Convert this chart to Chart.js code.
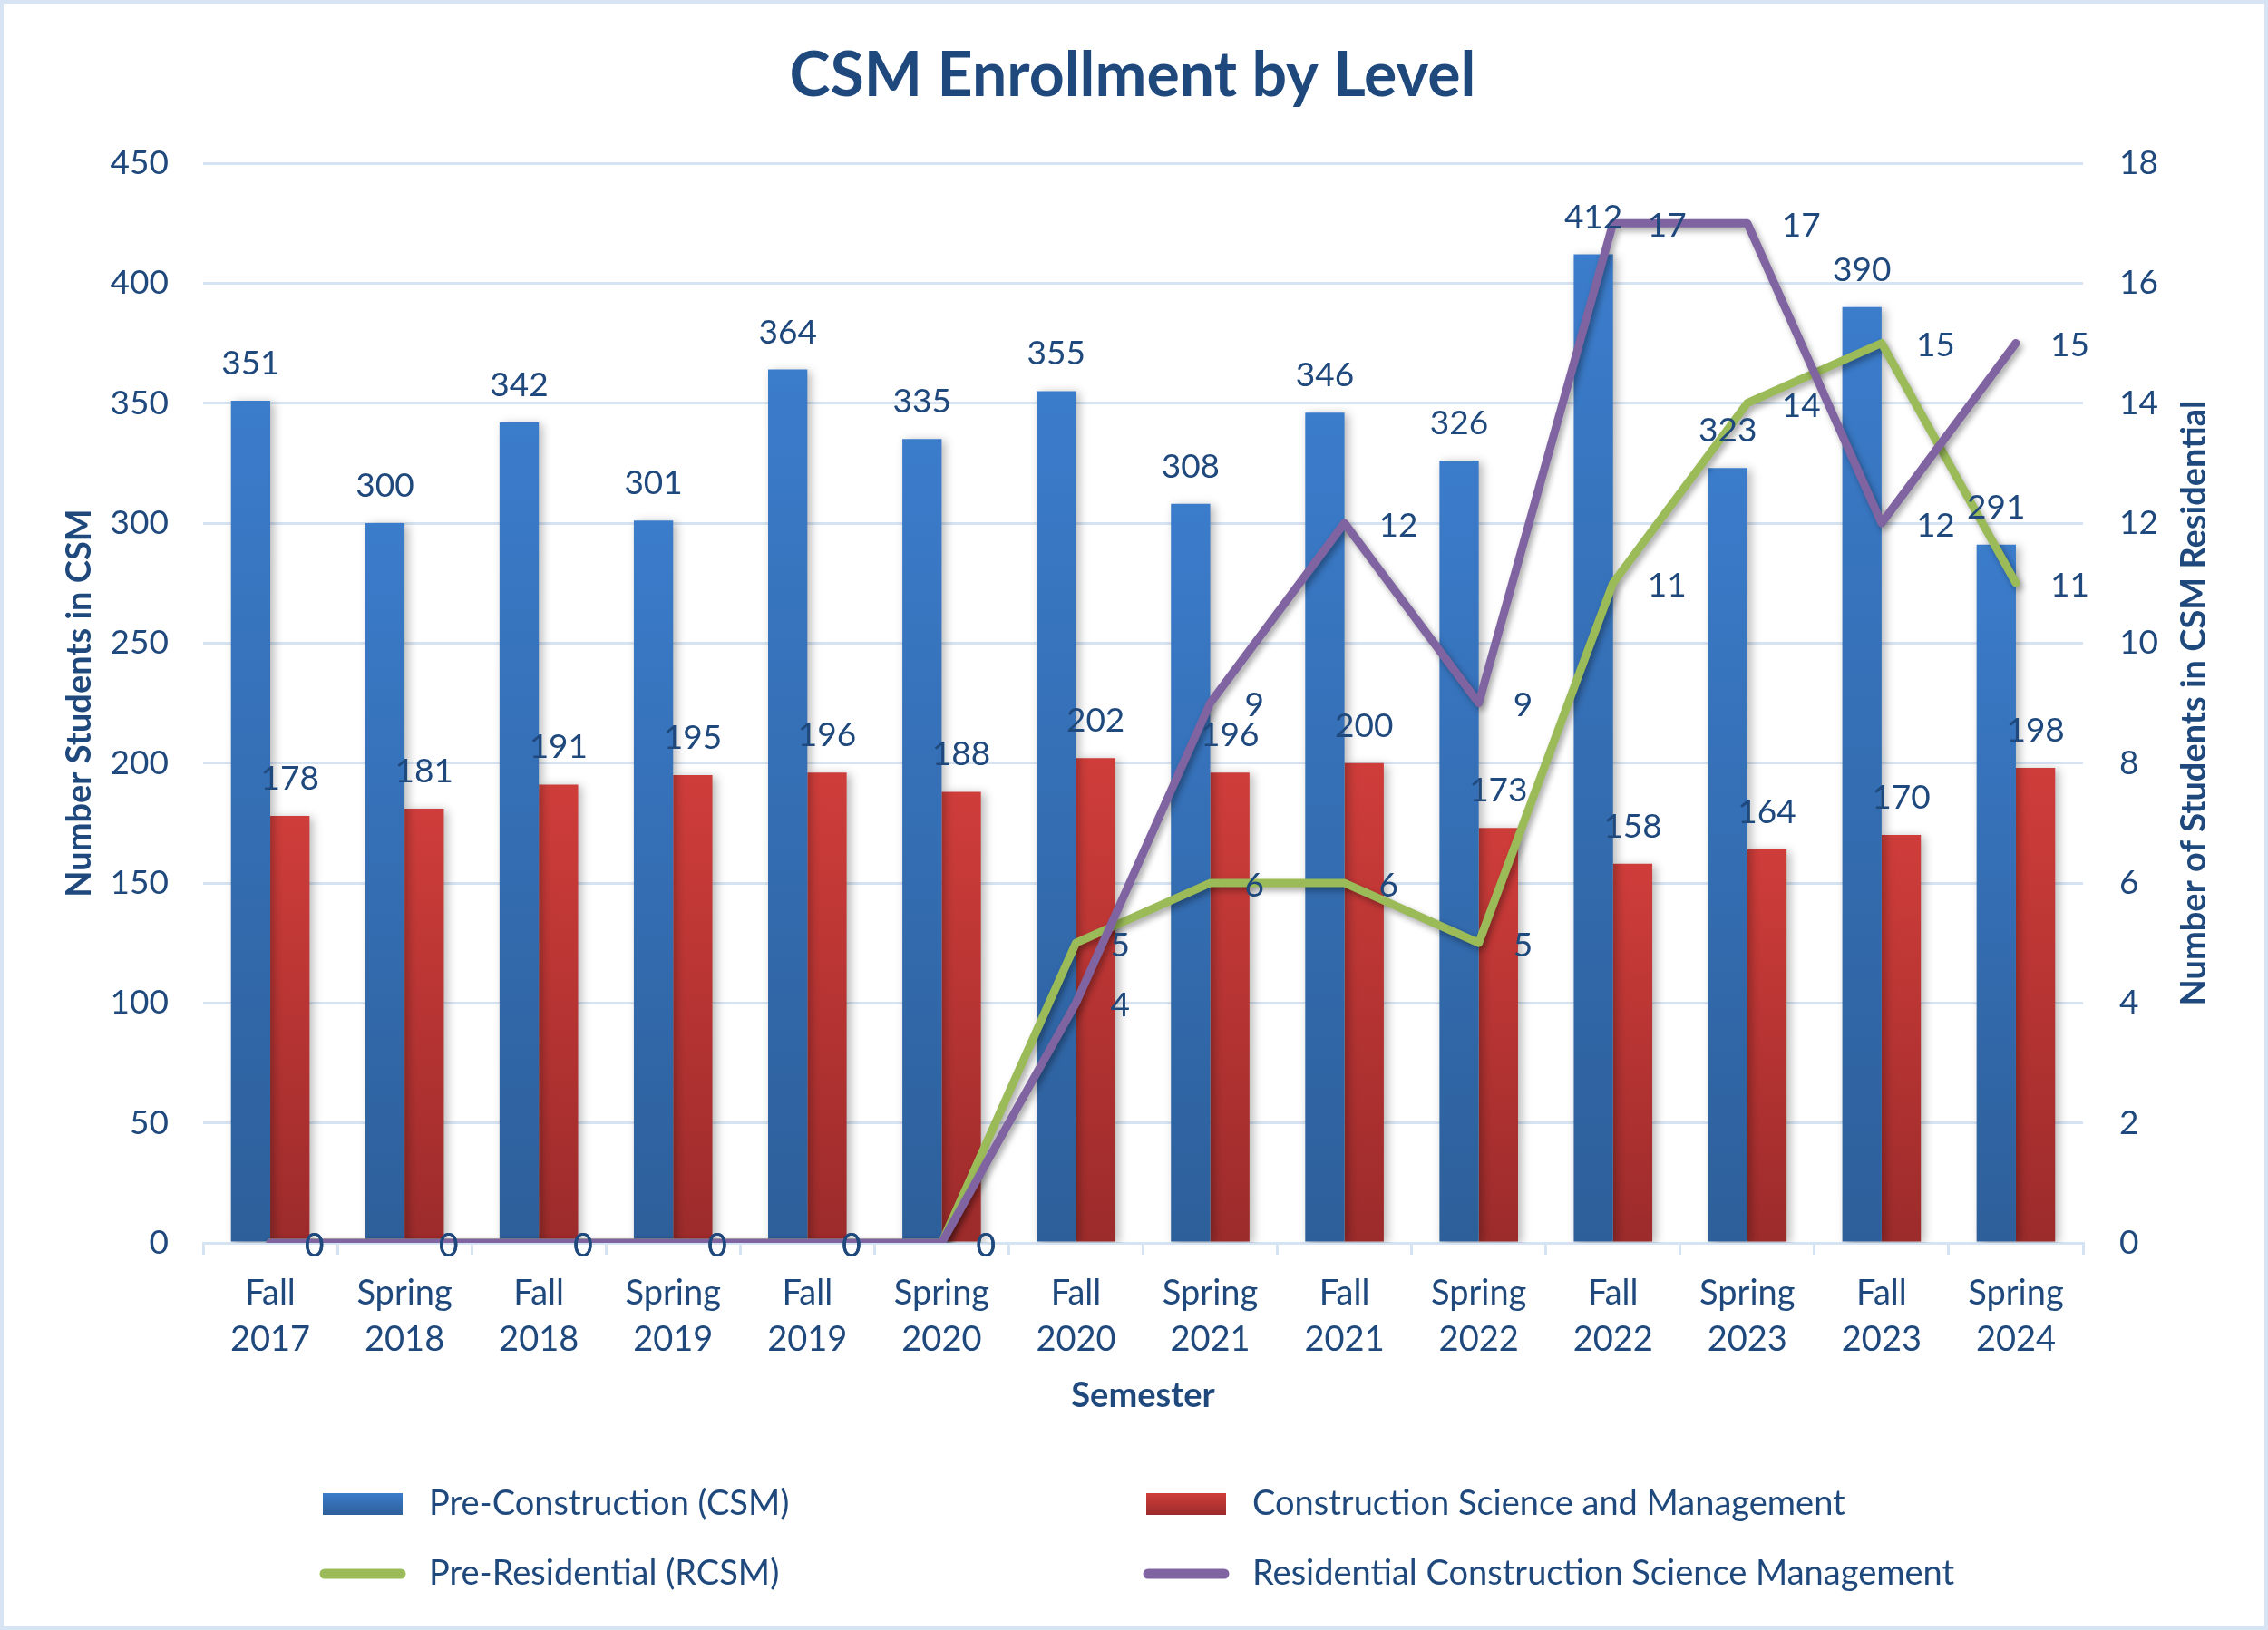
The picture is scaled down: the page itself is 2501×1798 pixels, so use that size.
<!DOCTYPE html>
<html><head><meta charset="utf-8">
<script src="https://cdn.jsdelivr.net/npm/chart.js@4.4.1/dist/chart.umd.min.js"></script>
<style>html,body{margin:0;padding:0;background:#fff;}canvas{display:block;}</style>
</head><body>
<canvas id="c" width="2501" height="1798"></canvas>
<script>
// ---- data ----
const semesters = [['Fall','2017'],['Spring','2018'],['Fall','2018'],['Spring','2019'],['Fall','2019'],['Spring','2020'],['Fall','2020'],['Spring','2021'],['Fall','2021'],['Spring','2022'],['Fall','2022'],['Spring','2023'],['Fall','2023'],['Spring','2024']];
const preConstruction = [351,300,342,301,364,335,355,308,346,326,412,323,390,291];
const constructionSci = [178,181,191,195,196,188,202,196,200,173,158,164,170,198];
const preResidential = [0,0,0,0,0,0,5,6,6,5,11,14,15,11];
const residentialCSM = [0,0,0,0,0,0,4,9,12,9,17,17,12,15];
const seriesNames = ['Pre-Construction (CSM)','Construction Science and Management','Pre-Residential (RCSM)','Residential Construction Science Management'];
const chartTitle = 'CSM Enrollment by Level';
const leftAxisTitle = 'Number Students in CSM';
const rightAxisTitle = 'Number of Students in CSM Residential';
const xAxisTitle = 'Semester';

const FONT = 'Lato';
const TXT = '#1F497D';
const GRID = '#D6E3F2';

function barGradient(ctx, top, bottom, c1, c2){
  const g = ctx.createLinearGradient(0, top, 0, bottom);
  g.addColorStop(0, c1); g.addColorStop(1, c2);
  return g;
}
function barFill(c1, c2){
  return function(context){
    const chart = context.chart;
    if (!chart.chartArea || context.type !== 'data') return c1;
    const ys = chart.scales.y;
    const top = ys.getPixelForValue(context.parsed.y);
    const bottom = ys.getPixelForValue(0);
    if (!isFinite(top) || bottom - top < 1) return c1;
    return barGradient(chart.ctx, top, bottom, c1, c2);
  };
}
const BLUE = ['#3B7CCB','#2D5F9A'];
const RED = ['#CF3D3A','#9C2B2B'];
const GREEN = '#9BBB59';
const PURPLE = '#8064A2';

const shadowPlugin = {
  id: 'shadow',
  beforeDatasetDraw(chart, args){
    const ctx = chart.ctx; ctx.save();
    const t = args.meta.type;
    if (t === 'bar'){ ctx.shadowColor='rgba(0,0,0,0.28)'; ctx.shadowBlur=10; ctx.shadowOffsetX=4; ctx.shadowOffsetY=2; }
    else { ctx.shadowColor='rgba(0,0,0,0.35)'; ctx.shadowBlur=7; ctx.shadowOffsetX=3; ctx.shadowOffsetY=4; }
  },
  afterDatasetDraw(chart){ chart.ctx.restore(); }
};

const labelPlugin = {
  id: 'labels',
  afterDatasetsDraw(chart){
    const ctx = chart.ctx;
    ctx.save();
    ctx.font = '37px ' + FONT;
    ctx.fillStyle = TXT;
    ctx.textBaseline = 'middle';
    chart.data.datasets.forEach((ds, i) => {
      const meta = chart.getDatasetMeta(i);
      meta.data.forEach((el, j) => {
        const v = ds.data[j];
        if (meta.type === 'bar'){
          ctx.textAlign = 'center';
          ctx.fillText(String(v), el.x, el.y - 41);
        } else {
          ctx.textAlign = 'left';
          ctx.fillText(String(v), el.x + 38, el.y + 3);
        }
      });
    });
    ctx.restore();
  },
  afterDraw(chart){
    const ctx = chart.ctx;
    const a = chart.chartArea;
    ctx.save();
    // border
    ctx.strokeStyle = '#D6E4F3'; ctx.lineWidth = 4;
    ctx.strokeRect(2, 2, chart.width - 4, chart.height - 4);
    ctx.fillStyle = TXT;
    ctx.textAlign = 'center'; ctx.textBaseline = 'middle';
    // title
    ctx.font = 'bold 68px ' + FONT;
    ctx.fillText(chartTitle, 1249, 84);
    // axis titles
    ctx.font = 'bold 38px ' + FONT;
    ctx.fillText(xAxisTitle, (a.left + a.right) / 2, 1540);
    ctx.save(); ctx.translate(88, (a.top + a.bottom) / 2); ctx.rotate(-Math.PI / 2);
    ctx.fillText(leftAxisTitle, 0, 0); ctx.restore();
    ctx.save(); ctx.translate(2420, (a.top + a.bottom) / 2); ctx.rotate(-Math.PI / 2);
    ctx.fillText(rightAxisTitle, 0, 0); ctx.restore();
    // legend
    const items = [
      {x: 356, y: 1659, type: 'bar', c: BLUE},
      {x: 1264, y: 1659, type: 'bar', c: RED},
      {x: 356, y: 1736, type: 'line', c: GREEN},
      {x: 1264, y: 1736, type: 'line', c: PURPLE}
    ];
    ctx.font = '38px ' + FONT;
    ctx.textAlign = 'left';
    items.forEach((it, k) => {
      if (it.type === 'bar'){
        ctx.fillStyle = barGradient(ctx, it.y - 12, it.y + 12, it.c[0], it.c[1]);
        ctx.fillRect(it.x, it.y - 12, 88, 24);
      } else {
        ctx.strokeStyle = it.c; ctx.lineWidth = 11; ctx.lineCap = 'round';
        ctx.beginPath(); ctx.moveTo(it.x + 2, it.y); ctx.lineTo(it.x + 86, it.y); ctx.stroke();
      }
      ctx.fillStyle = TXT;
      ctx.fillText(chart.data.datasets[k].label, it.x + 117, it.y);
    });
    ctx.restore();
  }
};

new Chart(document.getElementById('c'), {
  data: {
    labels: semesters,
    datasets: [
      {type:'bar', label: seriesNames[0], data: preConstruction, backgroundColor: barFill(BLUE[0], BLUE[1]), yAxisID:'y', order:2, categoryPercentage:0.585, barPercentage:1.0},
      {type:'bar', label: seriesNames[1], data: constructionSci, backgroundColor: barFill(RED[0], RED[1]), yAxisID:'y', order:2, categoryPercentage:0.585, barPercentage:1.0},
      {type:'line', label: seriesNames[2], data: preResidential, borderColor: GREEN, backgroundColor: GREEN, borderWidth: 9, pointRadius: 0, yAxisID:'y1', order:1, tension:0, borderCapStyle:'round', borderJoinStyle:'round'},
      {type:'line', label: seriesNames[3], data: residentialCSM, borderColor: PURPLE, backgroundColor: PURPLE, borderWidth: 9, pointRadius: 0, yAxisID:'y1', order:0, tension:0, borderCapStyle:'round', borderJoinStyle:'round'}
    ]
  },
  options: {
    responsive: false,
    devicePixelRatio: 1,
    animation: false,
    layout: { padding: { top: 180, bottom: 227, left: 0, right: 0 } },
    plugins: { legend: { display: false }, title: { display: false }, tooltip: { enabled: false } },
    scales: {
      x: {
        offset: true,
        grid: { display: true, drawOnChartArea: false, drawTicks: true, tickLength: 13, color: GRID, lineWidth: 3, offset: true },
        border: { display: true, color: GRID, width: 3 },
        ticks: { font: { family: FONT, size: 38, lineHeight: 1.35 }, color: TXT, padding: 17, maxRotation: 0, autoSkip: false },
        afterFit: s => { s.height = 200; }
      },
      y: {
        position: 'left', min: 0, max: 450,
        ticks: { stepSize: 50, font: { family: FONT, size: 37 }, color: TXT, padding: 38 },
        grid: { color: GRID, lineWidth: 3, drawTicks: false },
        border: { display: false },
        afterFit: s => { s.width = 224; }
      },
      y1: {
        position: 'right', min: 0, max: 18,
        ticks: { stepSize: 2, font: { family: FONT, size: 37 }, color: TXT, padding: 40 },
        grid: { drawOnChartArea: false, drawTicks: false },
        border: { display: false },
        afterFit: s => { s.width = 204; }
      }
    }
  },
  plugins: [shadowPlugin, labelPlugin]
});
</script>
</body></html>
